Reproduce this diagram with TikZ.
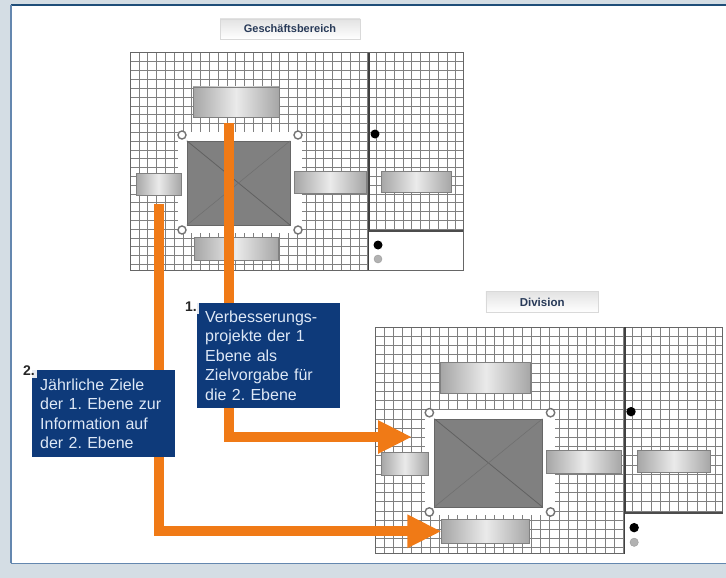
\documentclass[tikz,border=0pt]{standalone}
\usepackage{fontspec}
\setmainfont{Liberation Sans}
\usetikzlibrary{arrows.meta}
\frenchspacing
\definecolor{pageblue}{RGB}{212,221,228}
\definecolor{rimblue}{RGB}{31,78,121}
\definecolor{rimlight}{RGB}{100,135,175}
\definecolor{flow}{RGB}{240,122,22}
\definecolor{notebox}{RGB}{14,58,122}
\definecolor{notetext}{RGB}{222,232,246}
\definecolor{titleink}{RGB}{40,58,88}
\tikzset{
  gridline/.style={black!50,line width=0.6pt},
  cell/.style={draw=black!50,line width=0.8pt,left color=black!35,right color=black!35,middle color=black!8,inner sep=0pt},
  corner/.style={circle,draw=black!55,fill=white,line width=1.4pt,minimum size=8pt,inner sep=0pt},
  mark dot/.style={circle,fill=black,minimum size=9pt,inner sep=0pt},
  titlebox/.style={draw=gray!30,top color=gray!22,bottom color=white,minimum height=20pt,text=titleink,font=\bfseries\fontsize{11}{13}\selectfont},
  flowarrow/.style={flow,line width=10pt,-{Triangle[length=34pt,width=31pt]}},
  note/.style={fill=notebox,text=notetext,text width=127pt,align=left,inner xsep=8pt,font=\fontsize{16}{19.5}\selectfont},
  stepno/.style={fill=white,fill opacity=0.9,text opacity=1,inner sep=2pt,text=black!85,font=\bfseries\fontsize{14}{16}\selectfont}
}
\begin{document}
\begin{tikzpicture}[x=1pt,y=-1pt]
\useasboundingbox (0,0) rectangle (726,578);
\fill[pageblue] (0,0) rectangle (726,578);
\fill[white] (11,5) rectangle (726,563);
\draw[rimblue,line width=2pt] (11,5) -- (726,5);
\draw[rimlight,line width=1.5pt] (11,5) -- (11,563);
\draw[rimlight,line width=1pt] (11,563) -- (726,563);

\foreach \pre/\ox/\oy/\sc/\title/\tw in {gb/130/53/1/Geschäftsbereich/140,div/375/327/1.045/Division/108}{
\begin{scope}[shift={(\ox,\oy)},scale=\sc,transform shape]
\foreach \i in {1,...,37} \draw[gridline] ({\i*8.8},0) -- ({\i*8.8},217);
\foreach \j in {1,...,24} \draw[gridline] (0,{\j*8.8}) -- (333,{\j*8.8});
\draw[black!60,line width=1pt] (0,0) rectangle (333,217);
\draw[black!75,line width=1.5pt] (239,0) -- (239,217);
\fill[white] (48,79) rectangle (172,180);
\fill[white] (239,178) rectangle (333,217);
\draw[black!70,line width=1.2pt] (239,178) -- (333,178);
\node[fill=black!50,draw=black!60,minimum width=103pt,minimum height=84pt,inner sep=0pt] (\pre core) at (108.5,130) {};
\draw[black!62,line width=0.8pt] (\pre core.north west) -- (\pre core.south east);
\draw[black!56,line width=0.6pt] (\pre core.north east) -- (\pre core.south west);
\node[corner] (\pre cnw) at (52,82) {};
\node[corner] (\pre cne) at (168,82) {};
\node[corner] (\pre csw) at (52,177) {};
\node[corner] (\pre cse) at (168,177) {};
\node[cell,minimum width=86pt,minimum height=30pt] (\pre top) at (106,49) {};
\node[cell,minimum width=45pt,minimum height=22pt] (\pre left) at (28.5,131) {};
\node[cell,minimum width=72pt,minimum height=22pt] (\pre right) at (200,129) {};
\node[cell,minimum width=70pt,minimum height=21pt] (\pre far) at (286,128.5) {};
\node[cell,minimum width=84pt,minimum height=23pt] (\pre bottom) at (106,195.5) {};
\node[mark dot] (\pre dot) at (245,81) {};
\node[mark dot] (\pre keya) at (248,192) {};
\node[circle,fill=black!30,draw=black!40,minimum size=8pt,inner sep=0pt] (\pre keyb) at (248,206) {};
\node[titlebox,minimum width=\tw pt] (\pre title) at (160,-24) {\title};
\end{scope}
}

\coordinate (tipA) at (412,437);
\draw[flowarrow] ([xshift=-7pt,yshift=-6pt]gbtop.south) |- (tipA);
\draw[flowarrow] ([yshift=-9pt]gbleft.south) |- (divbottom.west);

\node[note,minimum height=105pt,anchor=north west] (noteA) at (197,303) {Verbesserungs-\\projekte der 1\\Ebene als\\Zielvorgabe für\\die 2. Ebene};
\node[note,minimum height=87pt,anchor=north west] (noteB) at (32,370) {Jährliche Ziele\\der 1. Ebene zur\\Information auf\\der 2. Ebene};
\node[stepno] (noA) at ([xshift=-6pt,yshift=-4pt]noteA.north west) {1.};
\node[stepno] (noB) at ([xshift=-3pt,yshift=-1pt]noteB.north west) {2.};
\end{tikzpicture}
\end{document}
